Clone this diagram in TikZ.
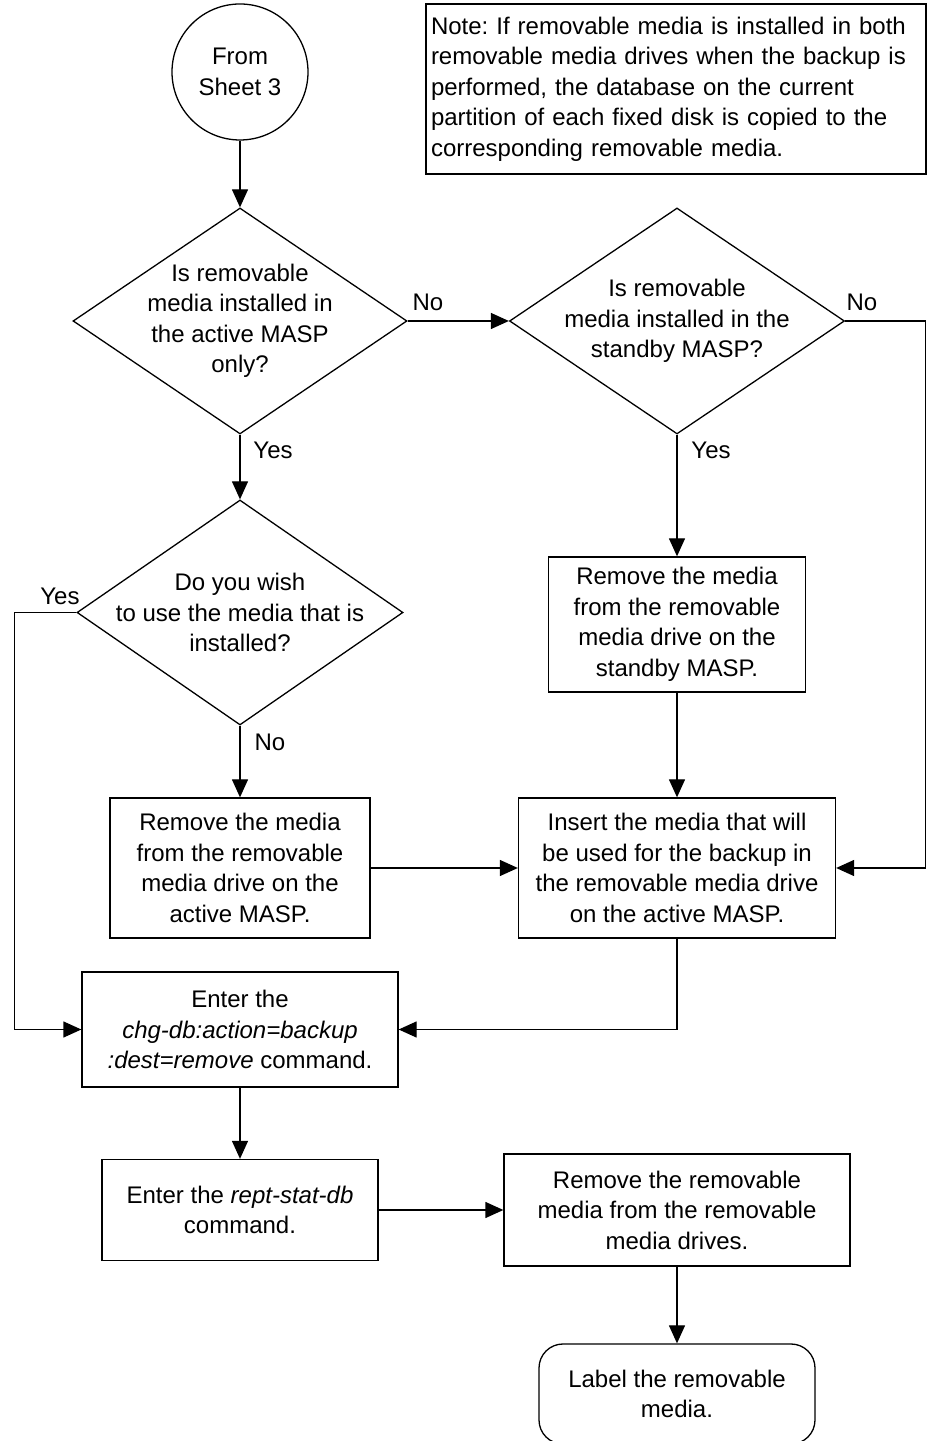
\documentclass[tikz,border=0pt]{standalone}
\usepackage{fontspec}
\setmainfont{Liberation Sans}
\frenchspacing
\usetikzlibrary{arrows.meta,positioning,shapes.geometric}

\begin{document}
\begin{tikzpicture}[
  x=10pt,y=10pt,
  flow/.style={
    -{Triangle[length=18pt,width=16pt]},
    line width=1.3pt,
    draw=black
  },
  stepbox/.style={
    rectangle,
    line width=1.3pt,
    draw=black,
    fill=white,
    align=center,
    inner sep=2pt,
    font=\fontsize{24}{30.5}\selectfont
  },
  decision/.style={
    diamond,
    shape aspect=1.47,
    line width=1.3pt,
    draw=black,
    fill=white,
    align=center,
    inner sep=-14pt,
    font=\fontsize{24}{30.5}\selectfont
  },
  endbox/.style={
    stepbox,
    rounded corners=24pt
  },
  sheetlink/.style={
    circle,
    line width=1.3pt,
    draw=black,
    align=center,
    inner sep=0pt,
    minimum size=136pt,
    font=\fontsize{24}{30.5}\selectfont
  },
  notebox/.style={
    rectangle,
    line width=1.3pt,
    draw=black,
    align=left,
    text width=490pt,
    inner xsep=5pt,
    minimum height=170pt,
    font=\fontsize{24}{30.5}\selectfont
  },
  answer/.style={
    font=\fontsize{24}{30.5}\selectfont
  }
]
\useasboundingbox (0,0) rectangle (92.8,144.1);

% -------------------------------------------------
% Top: sheet link and note
% -------------------------------------------------
\node[sheetlink] (from) at (24.0,136.9) {From\\Sheet 3};

\node[notebox] (note) at (67.6,135.2)
{Note: If removable media is installed in both\\
removable media drives when the backup is\\
performed, the database on the current\\
partition of each fixed disk is copied to the\\
corresponding removable media.};

% -------------------------------------------------
% Decisions
% -------------------------------------------------
\node[decision, minimum width=334pt, minimum height=226pt] (qactive) at (24.0,112.0)
{Is removable\\media installed in\\the active MASP\\only?};

\node[decision, minimum width=335pt, minimum height=226pt] (qstandby) at (67.7,112.0)
{Is removable\\media installed in the\\standby MASP?};

\node[decision, minimum width=326pt, minimum height=225pt] (quse) at (24.0,82.85)
{Do you wish\\to use the media that is\\installed?};

% -------------------------------------------------
% Process boxes
% -------------------------------------------------
\node[stepbox, minimum width=257pt, minimum height=135pt] (rmstandby) at (67.7,81.65)
{Remove the media\\from the removable\\media drive on the\\standby MASP.};

\node[stepbox, minimum width=260pt, minimum height=140pt] (rmactive) at (24.0,57.3)
{Remove the media\\from the removable\\media drive on the\\active MASP.};

\node[stepbox, minimum width=317pt, minimum height=140pt] (insert) at (67.7,57.3)
{Insert the media that will\\be used for the backup in\\the removable media drive\\on the active MASP.};

\node[stepbox, minimum width=316pt, minimum height=115pt] (chgdb) at (24.0,41.15)
{Enter the\\\textit{chg-db:action=backup}\\\textit{:dest=remove} command.};

\node[stepbox, minimum width=276pt, minimum height=101pt] (reptdb) at (24.0,23.1)
{Enter the \textit{rept-stat-db}\\command.};

\node[stepbox, minimum width=346pt, minimum height=112pt] (rmall) at (67.7,23.1)
{Remove the removable\\media from the removable\\media drives.};

\node[endbox, minimum width=276pt, minimum height=100pt] (labelmedia) at (67.7,4.7)
{Label the removable\\media.};

% -------------------------------------------------
% Answer labels
% -------------------------------------------------
\node[answer] (noactive) at (42.8,113.9) {No};
\node[answer] (nostandby) at (86.2,113.9) {No};
\node[answer] (yesactive) at (27.3,99.1) {Yes};
\node[answer] (yesstandby) at (71.1,99.1) {Yes};
\node[answer] (yesuse) at (6.0,84.5) {Yes};
\node[answer] (nouse) at (27.0,69.9) {No};

% -------------------------------------------------
% Connectors
% -------------------------------------------------
\draw[flow] (from.south) -- (qactive.north);
\draw[flow] (qactive.east) -- (qstandby.west);
\draw[flow] (qactive.south) -- (quse.north);
\draw[flow] (qstandby.south) -- (rmstandby.north);
\draw[flow] (qstandby.east) -- ++(8.0,0) |- (insert.east);
\draw[flow] (quse.south) -- (rmactive.north);
\draw[flow] (quse.west) -- ++(-6.2,0) |- (chgdb.west);
\draw[flow] (rmstandby.south) -- (insert.north);
\draw[flow] (rmactive.east) -- (insert.west);
\draw[flow] (insert.south) |- (chgdb.east);
\draw[flow] (chgdb.south) -- (reptdb.north);
\draw[flow] (reptdb.east) -- (rmall.west);
\draw[flow] (rmall.south) -- (labelmedia.north);

\end{tikzpicture}
\end{document}
